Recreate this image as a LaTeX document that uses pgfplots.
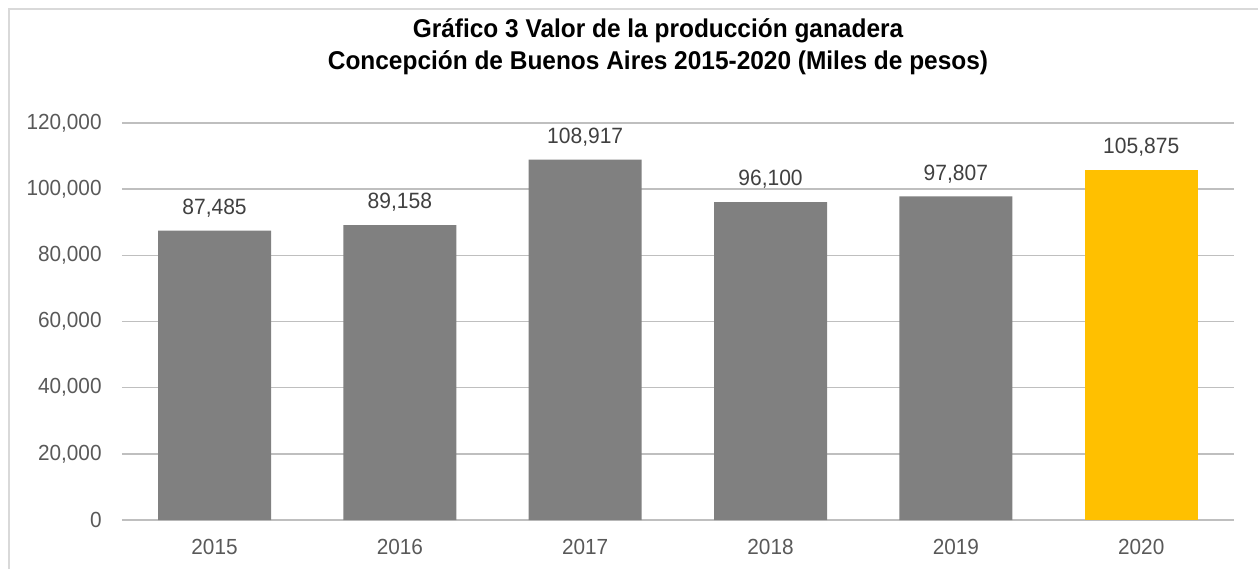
\documentclass[border=0pt]{standalone}
\usepackage{pgfplots}
\pgfplotsset{compat=1.18}
\usepackage{fontspec}
\setmainfont[FakeStretch=0.95]{Liberation Sans}
\definecolor{barg}{HTML}{808080}
\definecolor{gold}{HTML}{FFC000}
\definecolor{tick}{HTML}{595959}
\definecolor{lab}{HTML}{404040}
\definecolor{grid}{HTML}{D9D9D9}
\begin{document}
\begin{tikzpicture}
\path[use as bounding box] (0,0) rectangle (943.5pt,426.75pt);
\draw[grid,line width=1.5pt] (6.75pt,0) -- (6.75pt,420pt) -- (943.5pt,420pt);
\node[anchor=base,font=\fontsize{19.3}{23}\selectfont\bfseries] at (493.5pt,398.6pt) {Gráfico 3 Valor de la producción ganadera};
\node[anchor=base,font=\fontsize{19.3}{23}\selectfont\bfseries] at (493.5pt,374.6pt) {Concepción de Buenos Aires 2015-2020 (Miles de pesos)};
\begin{axis}[
  at={(160.9pt,36.75pt)}, anchor=origin,
  scale only axis, width=834pt, height=297.75pt,
  xmin=-0.5, xmax=5.5, ymin=0, ymax=120000,
  axis x line*=bottom, axis y line*=left,
  axis line style={draw=none},
  ybar, bar width=84.75pt, bar shift=0pt,
  xtick={0,1,2,3,4,5},
  xticklabels={2015,2016,2017,2018,2019,2020},
  ytick={0,20000,40000,60000,80000,100000,120000},
  xmajorgrids=false, ymajorgrids=true, grid style={grid,line width=1.1pt},
  major tick length=0pt, tick style={draw=none},
  tick label style={font=\fontsize{16.4}{19}\selectfont, text=tick},
  yticklabel style={anchor=east, inner sep=0pt, xshift=-15pt},
  xticklabel style={anchor=north, inner sep=0pt, yshift=-14.5pt},
  /pgf/number format/.cd, fixed, precision=0, 1000 sep={,}, assume math mode=true,
  /pgfplots/.cd,
  scaled y ticks=false,
  nodes near coords,
  every node near coord/.style={font=\fontsize{16.6}{19}\selectfont, text=lab, inner sep=0pt, anchor=south, text depth=0pt, yshift=12pt},
  clip=false,
]
\addplot[fill=barg, draw=none] coordinates {(0,87485) (1,89158) (2,108917) (3,96100) (4,97807)};
\addplot[fill=gold, draw=none] coordinates {(5,105875)};
\end{axis}
\end{tikzpicture}
\end{document}
